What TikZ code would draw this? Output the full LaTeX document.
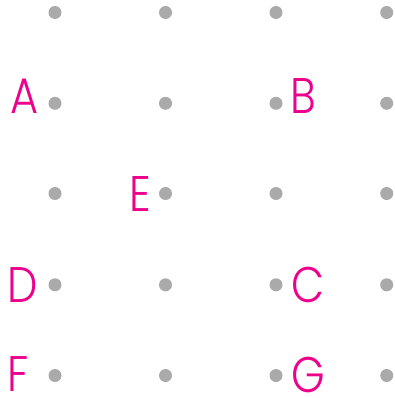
\documentclass[tikz,border=0pt]{standalone}
\usepackage{fontspec}
\setmainfont{Poppins Light}
\definecolor{lbl}{HTML}{EC008C}
\definecolor{dotc}{HTML}{AAAAAA}
\newcommand{\lbltext}[1]{\scalebox{0.86}[1]{#1}}
\begin{document}
\begin{tikzpicture}[x=1pt,y=-1pt,
  gdot/.style={circle,fill=dotc,inner sep=0pt,minimum size=13pt},
  lab/.style={text=lbl,inner sep=0pt,anchor=center,font=\fontsize{50}{50}\selectfont}]
\useasboundingbox (0,0) rectangle (394,398);
\foreach \i/\x in {1/55,2/165.5,3/276,4/386.7}{
  \foreach \j/\y in {1/12.5,2/103.3,3/193.5,4/284.8,5/375.5}{
    \node[gdot] (d\i\j) at (\x,\y) {};
  }
}
\node[lab] (A) at (24.5,96.3) {\lbltext{A}};
\node[lab] (B) at (303,96.3) {\lbltext{B}};
\node[lab] (E) at (140.8,193.5) {\lbltext{E}};
\node[lab] (D) at (22.2,284.7) {\lbltext{D}};
\node[lab] (C) at (307.8,284.5) {\lbltext{C}};
\node[lab] (F) at (17.8,374.3) {\lbltext{F}};
\node[lab] (G) at (308,374.5) {\lbltext{G}};
\end{tikzpicture}
\end{document}
